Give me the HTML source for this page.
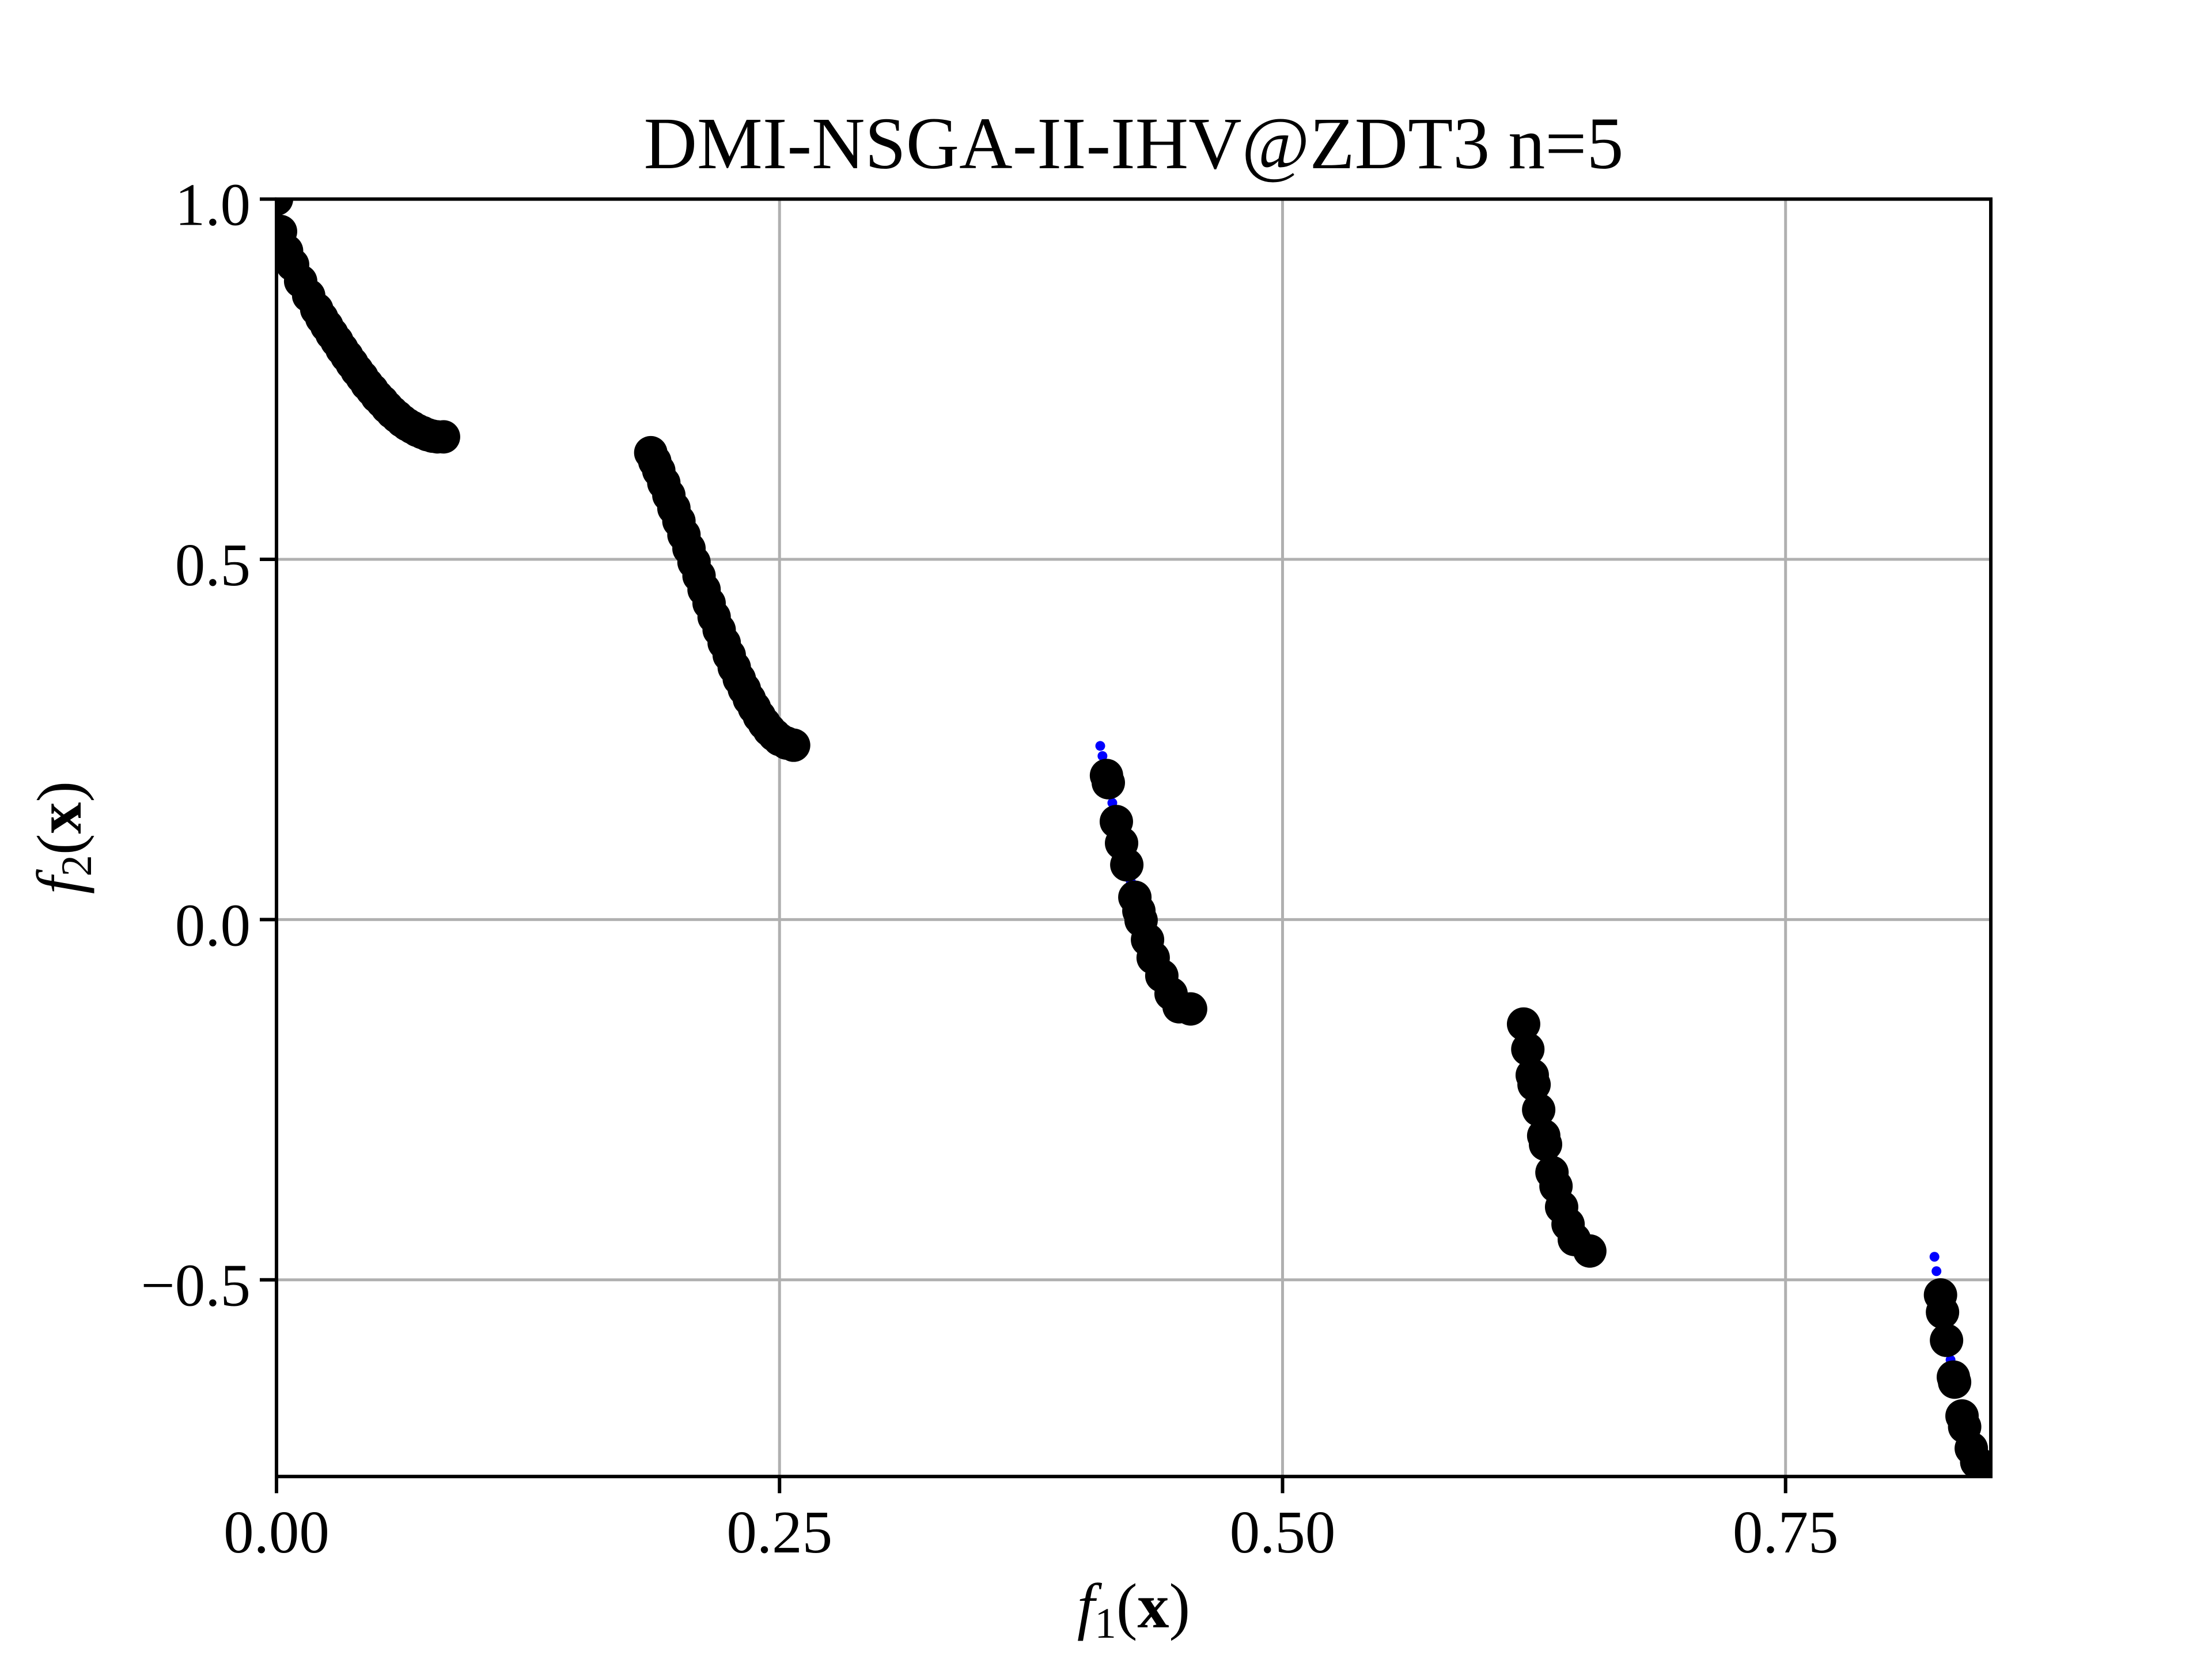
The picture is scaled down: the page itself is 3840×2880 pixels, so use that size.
<!DOCTYPE html>
<html><head><meta charset="utf-8"><style>
html,body{margin:0;padding:0;background:#fff}
svg{display:block}
text{font-family:"Liberation Serif","DejaVu Serif",serif;fill:#000}
</style></head><body>
<svg id="chart" width="3840" height="2880" viewBox="0 0 3840 2880" xmlns="http://www.w3.org/2000/svg">
<rect x="0" y="0" width="3840" height="2880" fill="#fff"/>
<defs><clipPath id="plotclip"><rect x="480" y="345.6" width="2976" height="2217.6"/></clipPath></defs>
<g id="grid"></g>
<g id="marks" clip-path="url(#plotclip)"></g>
<rect x="480" y="345.6" width="2976" height="2217.6" fill="none" stroke="#000" stroke-width="6"/>
<g id="ticks"></g>
<text x="1968" y="292" font-size="128" text-anchor="middle">DMI-NSGA-II-IHV@ZDT3 n=5</text>
<text x="1968" y="2825" font-size="110" text-anchor="middle"><tspan font-style="italic">f</tspan><tspan font-size="75" dy="18">1</tspan><tspan dy="-18">(</tspan><tspan font-weight="bold">x</tspan>)</text>
<text transform="translate(140,1454) rotate(-90)" font-size="110" text-anchor="middle"><tspan font-style="italic">f</tspan><tspan font-size="75" dy="18">2</tspan><tspan dy="-18">(</tspan><tspan font-weight="bold">x</tspan>)</text>
</svg>
<script>
const xTicks = [0, 0.25, 0.5, 0.75];
const xTickLabels = ["0.00", "0.25", "0.50", "0.75"];
const yTicks = [-0.5, 0, 0.5, 1.0];
const yTickLabels = ["\u22120.5", "0.0", "0.5", "1.0"];
const xDomain = [0, 0.852];
const yDomain = [-0.773, 1.0];

const frontF1 = [0,0.002,0.005,0.008,0.012,0.016,0.02,0.025,0.03,0.035,0.04,0.045,0.05,0.055,0.06,0.065,0.07,0.075,0.08,0.083,
 0.0225,0.0275,0.0325,0.0375,0.0425,0.0475,0.0525,0.0575,0.0625,0.0675,0.0725,0.0775,
 0.186,0.19,0.195,0.2,0.205,0.21,0.215,0.22,0.225,0.23,0.235,0.24,0.245,0.25,0.257,
 0.188,0.1925,0.1975,0.2025,0.2075,0.2125,0.2175,0.2225,0.2275,0.2325,0.2375,0.2425,0.2475,0.2535,
 0.4125,0.4134,0.4174,0.42,0.4226,0.4266,0.4286,0.4297,0.4329,0.4357,0.44,0.4446,0.4486,0.4543,
 0.6198,0.6219,0.6241,0.625,0.6273,0.6298,0.6307,0.6339,0.6359,0.6387,0.6419,0.645,0.6527,
 0.827,0.828,0.830,0.8334,0.834,0.8377,0.839,0.8423,0.845,0.849];
const frontF2 = [1.0,0.955,0.928,0.909,0.886,0.866,0.847,0.824,0.803,0.782,0.762,0.743,0.726,0.711,0.698,0.687,0.679,0.673,0.670,0.670,
 0.835,0.813,0.792,0.772,0.753,0.735,0.719,0.704,0.692,0.683,0.676,0.671,
 0.648,0.623,0.589,0.553,0.515,0.477,0.439,0.402,0.367,0.334,0.306,0.282,0.263,0.25,0.242,
 0.636,0.606,0.571,0.534,0.496,0.458,0.420,0.384,0.350,0.320,0.294,0.272,0.256,0.245,
 0.200,0.190,0.136,0.106,0.076,0.031,0.012,-0.001,-0.028,-0.053,-0.078,-0.103,-0.121,-0.124,
 -0.145,-0.180,-0.216,-0.229,-0.264,-0.300,-0.312,-0.351,-0.370,-0.399,-0.423,-0.444,-0.460,
 -0.521,-0.545,-0.584,-0.635,-0.642,-0.689,-0.704,-0.734,-0.753,-0.761];
const trueF1 = [0.4094,0.4105,0.4154,0.4246,0.824,0.825,0.832];
const trueF2 = [0.241,0.227,0.162,0.053,-0.468,-0.488,-0.611];

const L=480,R=3456,T=345.6,B=2563.2;
function sx(v){return L+(v-xDomain[0])/(xDomain[1]-xDomain[0])*(R-L);}
function sy(v){return B-(v-yDomain[0])/(yDomain[1]-yDomain[0])*(B-T);}
const NS="http://www.w3.org/2000/svg";
const grid=document.getElementById('grid'),ticks=document.getElementById('ticks'),marks=document.getElementById('marks');
function mk(tag,attrs,parent){const e=document.createElementNS(NS,tag);for(const k in attrs)e.setAttribute(k,attrs[k]);parent.appendChild(e);return e;}

xTicks.forEach((v,i)=>{
  const x=sx(v);
  const g=mk('line',{x1:x,x2:x,y1:T,y2:B,stroke:'#b0b0b0','stroke-width':5},grid);
  
  
  const t=mk('line',{x1:x,x2:x,y1:B,y2:B+29,stroke:'#000','stroke-width':6},ticks);
  
  
  const lb=mk('text',{x:x,y:2695,'font-size':105,'text-anchor':'middle'},ticks);
  lb.textContent=xTickLabels[i];
  
  
});
yTicks.forEach((v,i)=>{
  const y=sy(v);
  const g=mk('line',{x1:L,x2:R,y1:y,y2:y,stroke:'#b0b0b0','stroke-width':5},grid);
  
  
  const t=mk('line',{x1:L-29,x2:L,y1:y,y2:y,stroke:'#000','stroke-width':6},ticks);
  
  
  const lb=mk('text',{x:L-45,y:y+45,'font-size':105,'text-anchor':'end'},ticks);
  lb.textContent=yTickLabels[i];
  
  
});
trueF1.forEach((v,i)=>{
  const c=mk('circle',{cx:sx(v),cy:sy(trueF2[i]),r:8.5,fill:'#0000ff'},marks);
  
  
});
frontF1.forEach((v,i)=>{
  const c=mk('circle',{cx:sx(v),cy:sy(frontF2[i]),r:29,fill:'#000'},marks);
  
  
});
</script>
</body></html>
